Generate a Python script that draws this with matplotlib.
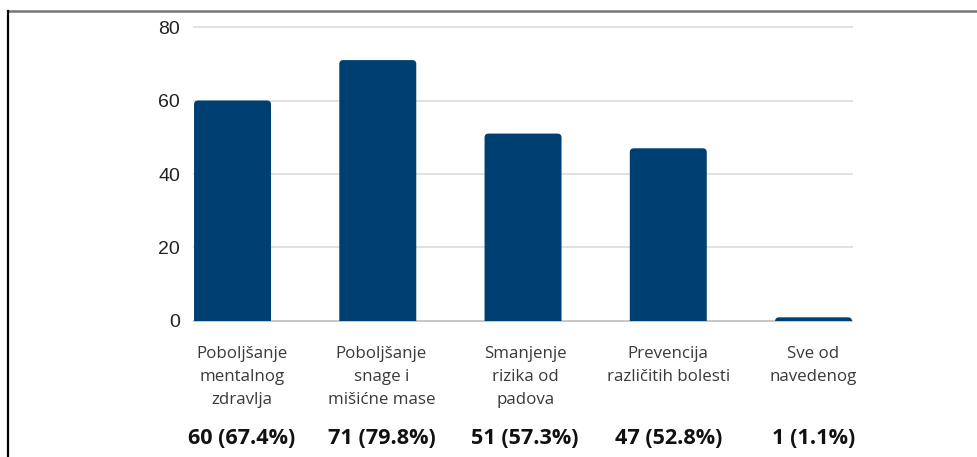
import matplotlib
matplotlib.use("Agg")
import matplotlib.pyplot as plt
from matplotlib.patches import FancyBboxPatch
from matplotlib.lines import Line2D

# podaci
categories = [
    "Poboljšanje\nmentalnog\nzdravlja",
    "Poboljšanje\nsnage i\nmišićne mase",
    "Smanjenje\nrizika od\npadova",
    "Prevencija\nrazličitih bolesti",
    "Sve od\nnavedenog",
]
counts = [60, 71, 51, 47, 1]
percents = [67.4, 79.8, 57.3, 52.8, 1.1]
y_ticks = [0, 20, 40, 60, 80]

bar_color = "#003f72"
bar_width = 0.53
# malo pomicanje oznaka (prva oznaka u originalu stoji desnije)
label_shift = [0.065, 0.025, 0.015, 0.0, 0.0]

fig = plt.figure(figsize=(9.78, 4.57), dpi=100)
ax = fig.add_axes([0.1984, 0.2976, 0.6728, 0.6433])

ax.set_xlim(-bar_width / 2, len(counts) - 1 + bar_width / 2)
ax.set_ylim(0, 80)

# mreža
for t in y_ticks:
    ax.axhline(t, color="#bdbdbd" if t == 0 else "#dcdcdc", lw=1.2,
               zorder=0, clip_on=False)

# stupci sa zaobljenim vrhom
r_x = 0.028
r_y = 1.1
for i, v in enumerate(counts):
    p = FancyBboxPatch((i - bar_width / 2, -r_y), bar_width, v + r_y,
                       boxstyle=f"round,pad=0,rounding_size={r_x}",
                       mutation_aspect=r_y / r_x,
                       facecolor=bar_color, edgecolor="none", zorder=2)
    ax.add_patch(p)

ax.set_yticks(y_ticks)
ax.set_yticklabels([str(t) for t in y_ticks], fontsize=14,
                   family="Liberation Sans", color="#222222")
ax.tick_params(axis="y", length=0, pad=10)
ax.set_xticks([])
for s in ax.spines.values():
    s.set_visible(False)

# oznake kategorija i vrijednosti
trans = ax.get_xaxis_transform()
for i, (cat, n, pct) in enumerate(zip(categories, counts, percents)):
    x = i + label_shift[i]
    ax.text(x, -0.085, cat, transform=trans, ha="center", va="top",
            fontsize=12.2, family="Open Sans", color="#3a3a3a",
            linespacing=1.58)
    ax.text(x, -0.40, f"{n} ({pct}%)", transform=trans, ha="center",
            va="center", fontsize=15.6, family="Open Sans",
            fontweight="bold", color="#111111")

# okvir
fig.add_artist(Line2D([0.0077, 1.0], [0.977, 0.977], color="#777777",
                      lw=1.8, transform=fig.transFigure))
fig.add_artist(Line2D([0.0077, 0.0077], [0.0, 0.977], color="#000000",
                      lw=1.6, transform=fig.transFigure))

fig.savefig("out.png", dpi=100)
plt.close(fig)
